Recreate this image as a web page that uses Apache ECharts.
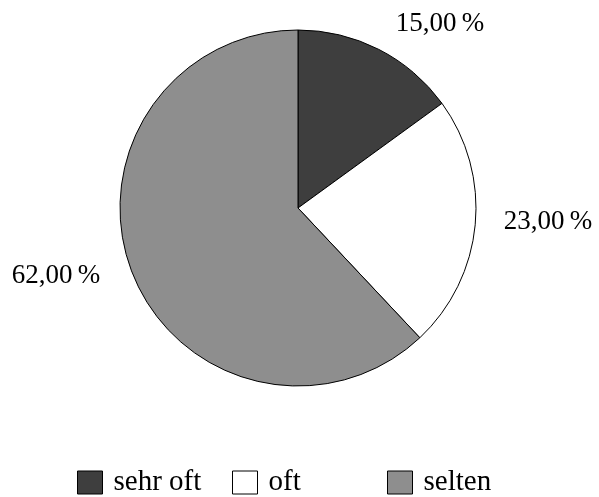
<!DOCTYPE html>
<html style="height: 100%">
<head>
<meta charset="utf-8">
<script src="https://cdn.jsdelivr.net/npm/echarts@6/dist/echarts.min.js"></script>
</head>
<body style="height: 100%; margin: 0; background: #fff">
<div id="container" style="width: 599px; height: 497px"></div>
<script>
// data
var categories = ['sehr oft', 'oft', 'selten'];
var shares = [15, 23, 62];

// label anchor points (page pixels), one per slice
var labelPos = [[440, 24], [548, 222], [56, 276]];
var legendLeft = [72, 227, 382];
var sliceColors = ['#3e3e3e', '#ffffff', '#8e8e8e'];

var myChart = echarts.init(document.getElementById('container'));

// one legend per category so the entries sit on a fixed pitch
var legends = categories.map(function (c, i) {
    return {
        left: legendLeft[i],
        top: 463,
        itemWidth: 25,
        itemHeight: 23,
        icon: 'rect',
        selectedMode: false,
        data: [c],
        itemStyle: { borderColor: '#000', borderWidth: 1 },
        textStyle: {
            fontFamily: 'Liberation Serif',
            fontSize: 29,
            color: '#000',
            padding: [0, 0, 0, 6]
        }
    };
});

var option = {
    backgroundColor: '#ffffff',
    animation: false,
    legend: legends,
    series: [{
        type: 'pie',
        center: [298, 208],
        radius: 178,
        startAngle: 90,
        clockwise: true,
        silent: true,
        data: categories.map(function (c, i) {
            return { name: c, value: shares[i], itemStyle: { color: sliceColors[i] } };
        }),
        itemStyle: { borderColor: '#000', borderWidth: 1 },
        label: {
            show: true,
            position: 'inside',
            overflow: 'none',
            fontFamily: 'Liberation Serif',
            fontSize: 27,
            color: '#000',
            formatter: function (p) {
                return p.value.toFixed(2).replace('.', ',') + '\u2009%';
            }
        },
        labelLine: { show: false },
        labelLayout: function (p) {
            return {
                x: labelPos[p.dataIndex][0],
                y: labelPos[p.dataIndex][1],
                align: 'center',
                verticalAlign: 'middle'
            };
        }
    }]
};

myChart.setOption(option);
</script>
</body>
</html>
